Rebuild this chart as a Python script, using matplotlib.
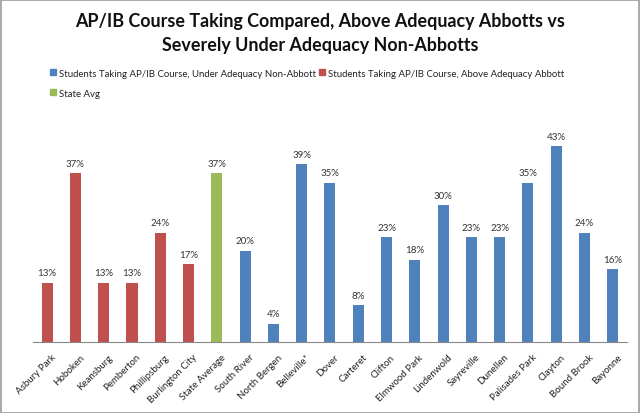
import matplotlib
matplotlib.use("Agg")
import matplotlib.pyplot as plt
import matplotlib.transforms as mtransforms
from matplotlib.patches import Patch, Rectangle

categories = ["Asbury Park", "Hoboken", "Keansburg", "Pemberton", "Phillipsburg",
              "Burlington City", "State Average", "South River", "North Bergen",
              "Belleville*", "Dover", "Carteret", "Clifton", "Elmwood Park",
              "Lindenwold", "Sayreville", "Dunellen", "Palisades Park", "Clayton",
              "Bound Brook", "Bayonne"]
values = [13, 37, 13, 13, 24, 17, 37, 20, 4, 39, 35, 8, 23, 18, 30, 23, 23, 35, 43, 24, 16]
groups = ["abbott"] * 6 + ["state"] + ["nonabbott"] * 14

colors = {"nonabbott": "#4F81BD", "abbott": "#C0504D", "state": "#9BBB59"}
legend_labels = {"nonabbott": "Students Taking AP/IB Course, Under Adequacy Non-Abbott",
                 "abbott": "Students Taking AP/IB Course, Above Adequacy Abbott",
                 "state": "State Avg"}
title = "AP/IB Course Taking Compared, Above Adequacy Abbotts vs\nSeverely Under Adequacy Non-Abbotts"

plt.rcParams['font.family'] = ['Lato', 'DejaVu Sans']

fig = plt.figure(figsize=(6.4, 4.14), dpi=100)
ax = fig.add_axes([0.0516, 0.172, 0.928, 0.5495])

x = list(range(len(categories)))
bar_colors = [colors[g] for g in groups]
bars = ax.bar(x, values, width=0.39, color=bar_colors, zorder=2)
for xi, v in zip(x, values):
    ax.text(xi, v + 1.2, f"{v}%", ha="center", va="bottom", fontsize=7, color="#333333")

ax.set_xlim(-0.5, len(categories) - 0.5)
ax.set_ylim(0, 50)
ax.set_yticks([])
ax.set_xticks(x)
ax.set_xticklabels(categories, rotation=45, ha="right", rotation_mode="anchor",
                   fontsize=7, color="#222222")
ax.tick_params(axis="x", length=0, pad=6)
offset = mtransforms.ScaledTranslation(4 / 100, -2 / 100, fig.dpi_scale_trans)
for lbl in ax.get_xticklabels():
    lbl.set_transform(lbl.get_transform() + offset)
for s in ["top", "right", "left"]:
    ax.spines[s].set_visible(False)
ax.spines["bottom"].set_color("#888888")
ax.spines["bottom"].set_linewidth(0.8)

fig.text(0.5, 0.918, title, ha="center", va="center", fontsize=12.9,
         fontweight="bold", linespacing=1.5, color="#111111")

order = ["nonabbott", "state", "abbott"]
handles = [Patch(color=colors[k], label=legend_labels[k]) for k in order]
fig.legend(handles=handles, ncol=2, loc="upper left", bbox_to_anchor=(0.071, 0.843),
           frameon=False, fontsize=6.9, handlelength=0.6, handleheight=0.6,
           handletextpad=0.35, columnspacing=0.3, labelspacing=1.15, borderpad=0,
           labelcolor="#222222")

fig.patches.append(Rectangle((0.001, 0.001), 0.997, 0.997, transform=fig.transFigure,
                             fill=False, edgecolor="#999999", linewidth=1.2))

fig.savefig("out.png", dpi=100)
